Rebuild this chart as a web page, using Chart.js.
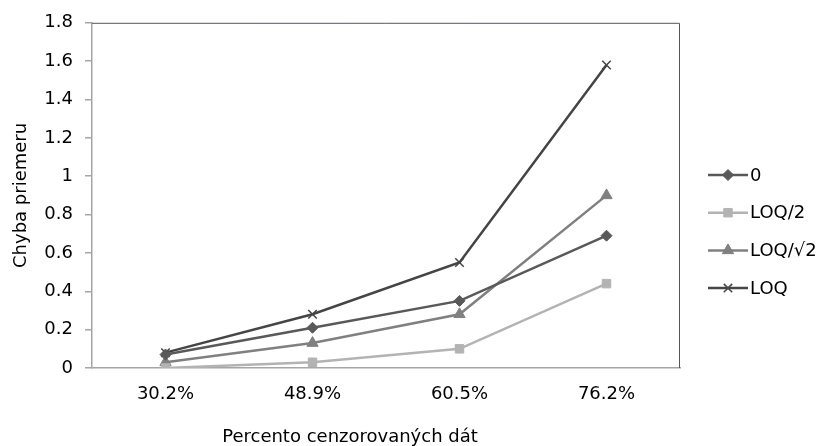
<!DOCTYPE html>
<html>
<head>
<meta charset="utf-8">
<script src="https://cdn.jsdelivr.net/npm/chart.js@4.4.1/dist/chart.umd.min.js"></script>
<style>
  html, body { margin: 0; padding: 0; background: #fff; }
  #wrap { width: 838px; height: 446px; }
</style>
</head>
<body>
<div id="wrap"><canvas id="chybaChart" width="838" height="446"></canvas></div>
<script>
// data
var categories = ['30.2%', '48.9%', '60.5%', '76.2%'];
var seriesNames = ['0', 'LOQ/2', 'LOQ/\u221A2', 'LOQ'];
var valuesZero = [0.07, 0.21, 0.35, 0.69];
var valuesHalf = [0.00, 0.03, 0.10, 0.44];
var valuesSqrt = [0.03, 0.13, 0.28, 0.90];
var valuesLoq = [0.08, 0.28, 0.55, 1.58];
var yTicks = [0, 0.2, 0.4, 0.6, 0.8, 1, 1.2, 1.4, 1.6, 1.8];

var fontFamily = '"DejaVu Sans", sans-serif';
var axisColor = '#a6a6a6';

function makeSet(label, data, color, style, radius) {
    return {
        label: label,
        data: data,
        borderColor: color,
        backgroundColor: color,
        borderWidth: 2.5,
        pointStyle: style,
        pointRadius: radius,
        pointHoverRadius: radius,
        pointBorderWidth: style === 'crossRot' ? 1.5 : 1,
        pointBorderColor: color,
        pointBackgroundColor: color,
        tension: 0
    };
}

// legend with line + marker, like the spreadsheet one
var lineLegend = {
    id: 'lineLegend',
    afterDraw(chart) {
        const ctx = chart.ctx;
        const x0 = 708, x1 = 748, yStart = 175, step = 37.7;
        ctx.save();
        chart.data.datasets.forEach((ds, i) => {
            const y = yStart + i * step;
            ctx.strokeStyle = ds.borderColor;
            ctx.lineWidth = 2.5;
            ctx.beginPath();
            ctx.moveTo(x0, y);
            ctx.lineTo(x1, y);
            ctx.stroke();
            ctx.fillStyle = ds.pointBackgroundColor;
            ctx.lineWidth = ds.pointBorderWidth;
            Chart.helpers.drawPoint(ctx, {pointStyle: ds.pointStyle, radius: ds.pointRadius, rotation: 0, borderWidth: ds.pointBorderWidth}, (x0 + x1) / 2, y);
            ctx.fillStyle = '#000';
            ctx.font = '18px ' + fontFamily;
            ctx.textBaseline = 'middle';
            ctx.textAlign = 'left';
            ctx.fillText(ds.label, x1 + 2, y + 1);
        });
        ctx.restore();
    }
};

// axis titles and the thin plot-area frame
var frameAndTitles = {
    id: 'frameAndTitles',
    beforeDatasetsDraw(chart) {
        const a = chart.chartArea;
        const ctx = chart.ctx;
        ctx.save();
        ctx.strokeStyle = '#4b5673';
        ctx.lineWidth = 1;
        ctx.beginPath();
        ctx.moveTo(a.left, a.top + 0.5);
        ctx.lineTo(a.right - 0.5, a.top + 0.5);
        ctx.lineTo(a.right - 0.5, a.bottom);
        ctx.stroke();
        ctx.restore();
    },
    afterDraw(chart) {
        const ctx = chart.ctx;
        const a = chart.chartArea;
        ctx.save();
        ctx.fillStyle = '#000';
        ctx.font = '18px ' + fontFamily;
        ctx.textAlign = 'center';
        ctx.textBaseline = 'middle';
        ctx.fillText('Percento cenzorovaných dát', 350, 437);
        ctx.translate(21, (a.top + a.bottom) / 2);
        ctx.rotate(-Math.PI / 2);
        ctx.fillText('Chyba priemeru', 0, 0);
        ctx.restore();
    }
};

new Chart(document.getElementById('chybaChart'), {
    type: 'line',
    data: {
        labels: categories,
        datasets: [
            makeSet(seriesNames[0], valuesZero, '#595959', 'rectRot', 5.5),
            makeSet(seriesNames[1], valuesHalf, '#b3b3b3', 'rect', 6),
            makeSet(seriesNames[2], valuesSqrt, '#808080', 'triangle', 6.5),
            makeSet(seriesNames[3], valuesLoq, '#454545', 'crossRot', 6)
        ]
    },
    options: {
        responsive: false,
        animation: false,
        layout: { padding: { top: 18, right: 158, left: 0, bottom: 0 } },
        plugins: {
            legend: { display: false },
            tooltip: { enabled: false }
        },
        scales: {
            x: {
                offset: true,
                grid: { drawOnChartArea: false, drawTicks: false },
                border: { color: axisColor, width: 1.5 },
                ticks: {
                    color: '#000',
                    font: { family: fontFamily, size: 18 },
                    padding: 16,
                    maxRotation: 0
                },
                afterFit(scale) { scale.height = 78; }
            },
            y: {
                min: 0,
                max: 1.8,
                afterBuildTicks(scale) {
                    scale.ticks = yTicks.map(v => ({ value: v }));
                },
                grid: { drawOnChartArea: false, drawTicks: true, tickLength: 7, color: axisColor, lineWidth: 1.5 },
                border: { color: axisColor, width: 1.5 },
                ticks: {
                    color: '#000',
                    font: { family: fontFamily, size: 18 },
                    padding: 12,
                    callback: v => String(+Number(v).toFixed(1))
                },
                afterFit(scale) { scale.width = 92; }
            }
        }
    },
    plugins: [frameAndTitles, lineLegend]
});
</script>
</body>
</html>
